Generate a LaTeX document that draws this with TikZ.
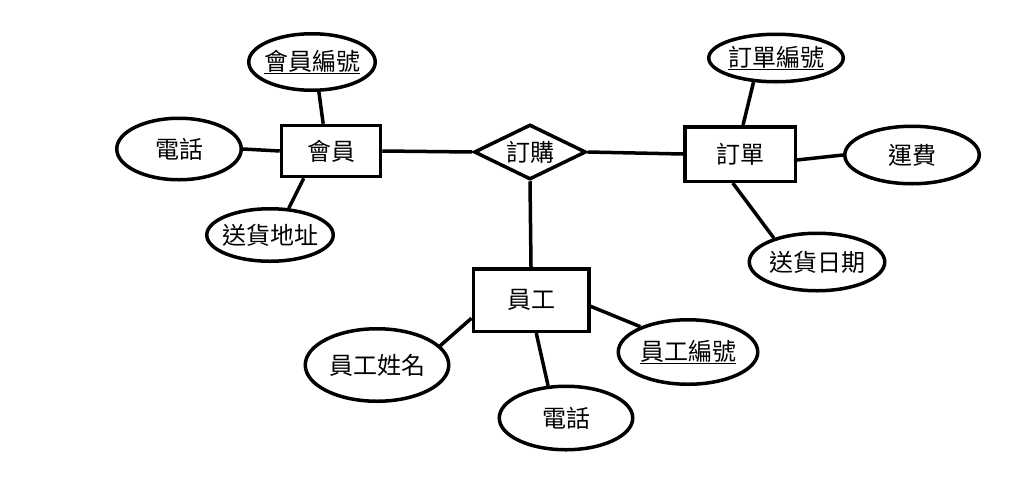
\documentclass[tikz,border=0pt]{standalone}
\usepackage{fontspec}
\setmainfont{Noto Sans CJK TC}
\usetikzlibrary{shapes.geometric}
\tikzset{
  er/.style={line width=3.5pt, draw=black, inner sep=0pt, font=\fontsize{24pt}{28pt}\selectfont},
  entity/.style={er, rectangle},
  attr/.style={er, ellipse, inner xsep=-10pt, inner ysep=-4pt},
  rel/.style={er, diamond, aspect=2},
  link/.style={line width=3.5pt, draw=black}
}
\begin{document}
\begin{tikzpicture}[x=1pt,y=-1pt]
\useasboundingbox (0,0) rectangle (1024,477);
% entities
\node[entity, minimum width=99pt, minimum height=51pt] (member) at (331,151) {會員};
\node[entity, minimum width=110.5pt, minimum height=54.5pt] (order) at (740,154) {訂單};
\node[entity, minimum width=115.5pt, minimum height=62.5pt] (staff) at (531,300) {員工};
% relationship
\node[rel, minimum width=112pt, minimum height=55pt] (buy) at (530,152) {訂購};
% attributes
\node[attr, minimum width=126.5pt, minimum height=56.5pt] (mid) at (312,62) {\underline{會員編號}};
\node[attr, minimum width=124.5pt, minimum height=61.5pt] (mtel) at (179,149) {電話};
\node[attr, minimum width=126.5pt, minimum height=52.5pt] (maddr) at (270,235) {送貨地址};
\node[attr, minimum width=134.5pt, minimum height=47.5pt] (oid) at (776,58) {\underline{訂單編號}};
\node[attr, minimum width=134.5pt, minimum height=57.5pt] (ofee) at (912,155) {運費};
\node[attr, minimum width=135.5pt, minimum height=57.5pt] (odate) at (817,262) {送貨日期};
\node[attr, minimum width=143.5pt, minimum height=72.5pt] (sname) at (377,365) {員工姓名};
\node[attr, minimum width=133.5pt, minimum height=63.5pt] (stel) at (566,418) {電話};
\node[attr, minimum width=139.5pt, minimum height=64.5pt] (sid) at (688,352) {\underline{員工編號}};
% connectors
\draw[link] (mid.-77) -- (member.106);
\draw[link] (mtel.east) -- (member.west);
\draw[link] (maddr.55) -- (member.-135);
\draw[link] (member.east) -- (buy.west);
\draw[link] (buy.east) -- (order.west);
\draw[link] (oid.-133) -- (order.84);
\draw[link] (order.-6) -- (ofee.west);
\draw[link] (order.-104) -- (odate.151);
\draw[link] (buy.south) -- (staff.north);
\draw[link] (staff.197) -- (sname.17);
\draw[link] (staff.-81) -- (stel.119);
\draw[link] (staff.-6.5) -- (sid.152.6);
\end{tikzpicture}
\end{document}
